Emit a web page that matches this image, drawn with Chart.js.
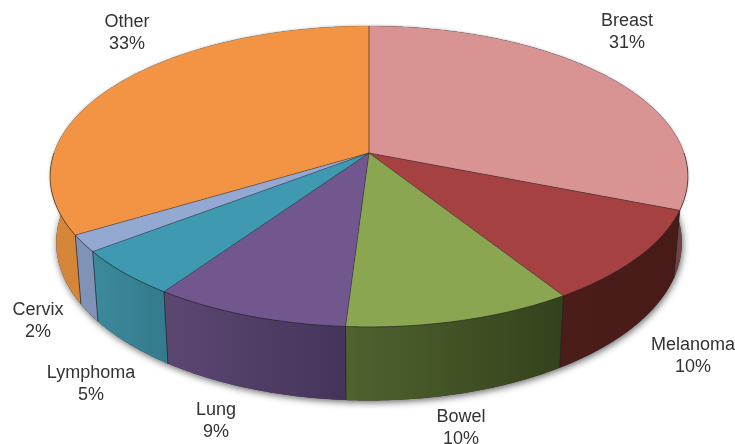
<!DOCTYPE html>
<html>
<head>
<meta charset="utf-8">
<style>
html,body{margin:0;padding:0;background:#fff;overflow:hidden}
canvas{display:block;filter:blur(0.35px)}
</style>
<script src="https://cdn.jsdelivr.net/npm/chart.js@4/dist/chart.umd.min.js"></script>
</head>
<body>
<canvas id="c" width="735" height="444" style="width:735px;height:444px"></canvas>
<script>
const categories = ["Breast","Melanoma","Bowel","Lung","Lymphoma","Cervix","Other"];
const shareValues = [31,10,10,8.6,5,1.8,33.6];
const percentLabels = ["31%","10%","10%","9%","5%","2%","33%"];

const topColors = ["#D89392","#A54241","#8AA651","#72568E","#3F99B1","#93A9D2","#F39444"];
const wallColors = [
  ["#6e4444","#6e4444"],["#4A1C1A","#481B19"],["#506230","#34421B"],["#5C4772","#44345A"],
  ["#3B8A9C","#337A8C"],["#7F93B6","#7F93B6"],["#D58639","#D08236"]
];
const labelAnchors = [[627,21],[693,345],[461,417],[216,410],[91,373],[38,310],[127,22]];

const topFace = {cx:369,cy:153,c:315,b:146.8,a:0.156};
const baseFace = {cx:369,cy:218,c:309,b:154,a:0.156};
function project(f,theta){
  const x=Math.sin(theta), y=Math.cos(theta), d=1+f.a*y;
  return [f.cx+f.c*x/d, f.cy-f.b*y/d];
}
function rim(f,t0,t1){
  const n=Math.max(2,Math.ceil(Math.abs(t1-t0)/0.01)), pts=[];
  for(let i=0;i<=n;i++) pts.push(project(f,t0+(t1-t0)*i/n));
  return pts;
}
function trace(ctx,pts,move){
  pts.forEach((p,i)=>{ if(i===0&&move) ctx.moveTo(p[0],p[1]); else ctx.lineTo(p[0],p[1]); });
}
const pie3d = {
  id:'pie3d',
  beforeDatasetsDraw(chart){
    const ctx=chart.ctx, arcs=chart.getDatasetMeta(0).data;
    const spans=arcs.map(a=>[a.startAngle+Math.PI/2,a.endAngle+Math.PI/2]);
    ctx.save();
    // soft shadow under the base and round the top
    ctx.save();
    ctx.shadowColor='rgba(0,0,0,0.6)';ctx.shadowBlur=7;ctx.shadowOffsetY=2;ctx.shadowOffsetX=1;
    ctx.fillStyle='#333';
    ctx.beginPath();trace(ctx,rim(baseFace,0,Math.PI*2),true);ctx.closePath();ctx.fill();
    ctx.shadowColor='rgba(0,0,0,0.35)';ctx.shadowBlur=3;ctx.shadowOffsetY=0;ctx.shadowOffsetX=0;
    ctx.beginPath();trace(ctx,rim(topFace,0,Math.PI*2),true);ctx.closePath();ctx.fill();
    ctx.restore();
    // walls
    spans.forEach((s,i)=>{
      const t=rim(topFace,s[0],s[1]), b=rim(baseFace,s[1],s[0]);
      const xs=t.concat(b).map(p=>p[0]);
      const g=ctx.createLinearGradient(Math.min(...xs),0,Math.max(...xs),0);
      g.addColorStop(0,wallColors[i][0]);g.addColorStop(1,wallColors[i][1]);
      ctx.fillStyle=g;
      ctx.beginPath();trace(ctx,t,true);trace(ctx,b,false);ctx.closePath();ctx.fill();
      ctx.strokeStyle='rgba(30,30,30,0.8)';ctx.lineWidth=0.8;
      const p=project(topFace,s[0]),q=project(baseFace,s[0]);
      ctx.beginPath();ctx.moveTo(p[0],p[1]);ctx.lineTo(q[0],q[1]);ctx.stroke();
    });
    // top face
    spans.forEach((s,i)=>{
      ctx.fillStyle=topColors[i];
      ctx.beginPath();ctx.moveTo(topFace.cx,topFace.cy);trace(ctx,rim(topFace,s[0],s[1]),false);ctx.closePath();ctx.fill();
    });
    spans.forEach((s,i)=>{
      const p=project(topFace,s[0]);
      ctx.strokeStyle=i===0?'rgba(50,45,40,0.9)':'rgba(40,40,50,0.55)';ctx.lineWidth=0.8;
      ctx.beginPath();ctx.moveTo(topFace.cx,topFace.cy);ctx.lineTo(p[0],p[1]);ctx.stroke();
    });
    // rim: dark at the front, faint at the back
    ctx.lineWidth=0.8;
    ctx.strokeStyle='rgba(130,130,130,0.4)';
    ctx.beginPath();trace(ctx,rim(topFace,-Math.PI/2,Math.PI/2),true);ctx.stroke();
    ctx.strokeStyle='rgba(30,30,30,0.75)';
    ctx.beginPath();trace(ctx,rim(topFace,Math.PI/2,Math.PI*1.5),true);ctx.stroke();
    // labels
    ctx.fillStyle='#333';ctx.font='18px "Liberation Sans", Arial, sans-serif';
    ctx.textAlign='center';ctx.textBaseline='middle';
    categories.forEach((name,i)=>{
      const [x,y]=labelAnchors[i];
      ctx.fillText(name,x,y);
      ctx.fillText(percentLabels[i],x,y+22);
    });
    ctx.restore();
    return false;
  }
};
new Chart(document.getElementById('c'),{
  type:'pie',
  data:{labels:categories,datasets:[{data:shareValues,backgroundColor:topColors,borderWidth:0}]},
  options:{
    responsive:false,animation:false,devicePixelRatio:1,
    layout:{padding:{left:50,right:47,top:26,bottom:118}},
    plugins:{legend:{display:false},tooltip:{enabled:false},title:{display:false}}
  },
  plugins:[pie3d]
});
</script>
</body>
</html>
